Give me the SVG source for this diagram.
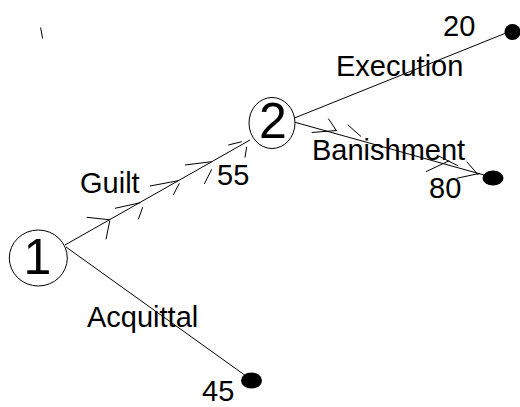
<svg xmlns="http://www.w3.org/2000/svg" width="520" height="407" viewBox="0 0 520 407">
<style>
  .edge { stroke: #000; stroke-width: 1; fill: none; }
  .node { stroke: #000; stroke-width: 1; fill: #fff; }
  .term { fill: #000; stroke: none; }
  .lbl { font-family: "Liberation Sans", Arial, sans-serif; font-size: 29px; fill: #000; }
  .num { font-family: "Liberation Sans", Arial, sans-serif; font-size: 50px; fill: #000; }
</style>
<rect width="520" height="407" fill="#fff"/>
<g id="connectors">
  <line class="edge" x1="65" y1="245" x2="250" y2="140"/>
  <line class="edge" x1="66" y1="247" x2="246" y2="376"/>
  <line class="edge" x1="292" y1="119" x2="506" y2="33"/>
  <line class="edge" x1="294" y1="122" x2="484" y2="175"/>
  <g id="guilt-chevrons">
    <path class="edge" d="M86.7,217.3 L110,219.8 M109.8,220.7 L106,239.3"/>
    <path class="edge" d="M115,208.3 L140.5,202.7 M142.7,207.3 L138.3,219.3"/>
    <path class="edge" d="M150,186 L178.3,180.7 M179.3,183.3 L173.3,195"/>
    <path class="edge" d="M185,165 L211.7,161.7 M211.7,169.3 L204.3,184"/>
    <path class="edge" d="M228.3,145 L241.7,141.7 M246.7,146.7 L245,157.5"/>
  </g>
  <g id="banishment-chevrons">
    <path class="edge" d="M328.3,118.5 L336.7,131 M311.7,132.5 L336.7,130.5"/>
    <path class="edge" d="M347.7,124.7 L361,136.5"/>
    <path class="edge" d="M436.7,155 L458.3,166 M426,171.7 L449.3,160.7"/>
    <path class="edge" d="M466.7,161.7 L478.3,175 M456.7,178.3 L480,173.3"/>
  </g>
  <line class="edge" x1="40.6" y1="27.5" x2="42.6" y2="38.5"/>
</g>
<g id="node1">
  <ellipse class="node" cx="38.3" cy="258" rx="29" ry="28"/>
  <text class="num" x="23.5" y="274">1</text>
</g>
<g id="node2">
  <ellipse class="node" cx="272" cy="123" rx="23" ry="25.5"/>
  <text class="num" x="259" y="138">2</text>
</g>
<g id="end-execution">
  <ellipse class="term" cx="512.5" cy="32" rx="8" ry="8"/>
</g>
<g id="end-banishment">
  <ellipse class="term" cx="493" cy="178" rx="10.5" ry="7.5"/>
</g>
<g id="end-acquittal">
  <ellipse class="term" cx="251.5" cy="380.5" rx="10.5" ry="8"/>
</g>
<g id="labels">
  <text class="lbl" x="80" y="193">Guilt</text>
  <text class="lbl" x="217" y="185">55</text>
  <text class="lbl" x="336" y="76">Execution</text>
  <text class="lbl" x="443" y="36">20</text>
  <text class="lbl" x="312" y="160">Banishment</text>
  <text class="lbl" x="429" y="198">80</text>
  <text class="lbl" x="87" y="327">Acquittal</text>
  <text class="lbl" x="202" y="401">45</text>
</g>
</svg>
